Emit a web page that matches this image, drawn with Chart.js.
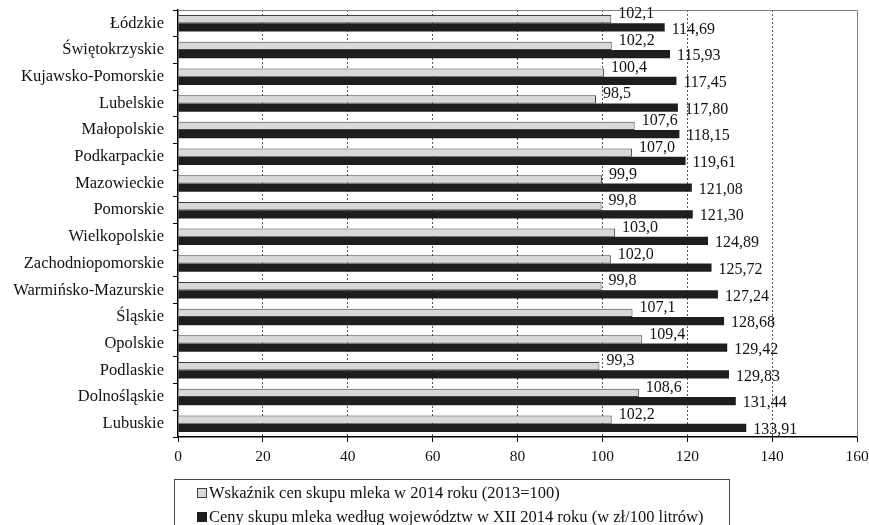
<!DOCTYPE html>
<html>
<head>
<meta charset="utf-8">
<script src="https://cdn.jsdelivr.net/npm/chart.js@4.4.1/dist/chart.umd.min.js"></script>
<style>
  html, body { margin: 0; padding: 0; background: #fff; }
  #wrap { width: 869px; height: 525px; position: relative; }
</style>
</head>
<body>
<div id="wrap"><canvas id="mleko"></canvas></div>
<script>
// województwa, od najniższej do najwyższej ceny
const wojewodztwa = ['Łódzkie', 'Świętokrzyskie', 'Kujawsko-Pomorskie', 'Lubelskie', 'Małopolskie',
  'Podkarpackie', 'Mazowieckie', 'Pomorskie', 'Wielkopolskie', 'Zachodniopomorskie',
  'Warmińsko-Mazurskie', 'Śląskie', 'Opolskie', 'Podlaskie', 'Dolnośląskie', 'Lubuskie'];

// wskaźnik cen skupu (2013=100)
const wskaznik = [102.1, 102.2, 100.4, 98.5, 107.6, 107.0, 99.9, 99.8, 103.0, 102.0,
  99.8, 107.1, 109.4, 99.3, 108.6, 102.2];

// ceny skupu w XII 2014 (zł/100 l)
const ceny = [114.69, 115.93, 117.45, 117.80, 118.15, 119.61, 121.08, 121.30, 124.89, 125.72,
  127.24, 128.68, 129.42, 129.83, 131.44, 133.91];

const osX = [0, 20, 40, 60, 80, 100, 120, 140, 160];

const legendaTxt = ['Wskaźnik cen skupu mleka w 2014 roku (2013=100)',
  'Ceny skupu mleka według województw w XII 2014 roku (w zł/100 litrów)'];

const FONT = '"Liberation Serif", "Times New Roman", serif';

// etykiety wartości przy słupkach (przecinek dziesiętny)
const etykiety = {
  id: 'etykiety',
  afterDatasetsDraw(chart) {
    const ctx = chart.ctx;
    ctx.save();
    ctx.font = '16px ' + FONT;
    ctx.fillStyle = '#111';
    ctx.textBaseline = 'middle';
    ctx.textAlign = 'left';
    chart.data.datasets.forEach((ds, di) => {
      chart.getDatasetMeta(di).data.forEach((bar, i) => {
        const v = ds.data[i];
        const txt = v.toFixed(di === 0 ? 1 : 2).replace('.', ',');
        if (di === 0) ctx.fillText(txt, bar.x + 7, bar.y - 5);
        else ctx.fillText(txt, bar.x + 7, bar.y + 2);
      });
    });
    ctx.restore();
  }
};

// ramka obszaru wykresu i legenda w ramce pod osią
const ramka = {
  id: 'ramka',
  beforeDatasetsDraw(chart) {
    const a = chart.chartArea;
    const ctx = chart.ctx;
    ctx.save();
    ctx.strokeStyle = '#808080';
    ctx.lineWidth = 1;
    ctx.beginPath();
    ctx.moveTo(a.left, a.top + 0.5);
    ctx.lineTo(a.right + 0.5, a.top + 0.5);
    ctx.lineTo(a.right + 0.5, a.bottom);
    ctx.stroke();
    ctx.restore();
  },
  afterDraw(chart) {
    const ctx = chart.ctx;
    ctx.save();
    ctx.strokeStyle = '#444';
    ctx.lineWidth = 1;
    ctx.strokeRect(174.5, 479.5, 555, 60);
    ctx.font = '16.5px ' + FONT;
    ctx.textBaseline = 'middle';
    ctx.textAlign = 'left';
    chart.data.datasets.forEach((ds, i) => {
      const y = 493 + i * 24;
      ctx.fillStyle = ds.backgroundColor;
      ctx.fillRect(197, y - 5, 10, 10);
      ctx.strokeStyle = ds.borderColor;
      ctx.strokeRect(197.5, y - 4.5, 9, 9);
      ctx.fillStyle = '#111';
      ctx.fillText(legendaTxt[i], 209, y + 1);
    });
    ctx.restore();
  }
};

new Chart(document.getElementById('mleko'), {
  type: 'bar',
  data: {
    labels: wojewodztwa,
    datasets: [{
      label: legendaTxt[0],
      data: wskaznik,
      backgroundColor: '#d9d9d9',
      borderColor: '#404040',
      borderWidth: 1,
      borderSkipped: 'left'
    }, {
      label: legendaTxt[1],
      data: ceny,
      backgroundColor: '#1e1e1e',
      borderColor: '#1e1e1e',
      borderWidth: 0
    }]
  },
  options: {
    indexAxis: 'y',
    responsive: true,
    maintainAspectRatio: false,
    animation: false,
    categoryPercentage: 0.62,
    barPercentage: 1.0,
    layout: { padding: { top: 10, right: 12, bottom: 58, left: 0 } },
    plugins: {
      legend: { display: false },
      tooltip: { enabled: false }
    },
    scales: {
      x: {
        min: 0,
        max: 160,
        afterBuildTicks(scale) { scale.ticks = osX.map(v => ({ value: v })); },
        afterFit(scale) {
          scale.height = 30;
          scale.paddingLeft = 0;
          scale.paddingRight = 0;
        },
        ticks: {
          font: { family: FONT, size: 15.5 },
          color: '#111',
          padding: 6
        },
        grid: {
          color: c => (c.tick && (c.tick.value === 0 || c.tick.value === 160)) ? 'rgba(0,0,0,0)' : '#555',
          lineWidth: 1,
          tickColor: '#000',
          tickLength: 5
        },
        border: { display: true, color: '#000', width: 1.5, dash: [2, 2] }
      },
      y: {
        afterFit(scale) {
          scale.width = 178;
          scale.paddingTop = 0;
          scale.paddingBottom = 0;
        },
        ticks: {
          font: { family: FONT, size: 16.5 },
          color: '#111',
          padding: 9
        },
        grid: {
          offset: true,
          drawOnChartArea: false,
          tickColor: '#000',
          tickLength: 5
        },
        border: { display: true, color: '#000', width: 1.5 }
      }
    }
  },
  plugins: [ramka, etykiety]
});
</script>
</body>
</html>
